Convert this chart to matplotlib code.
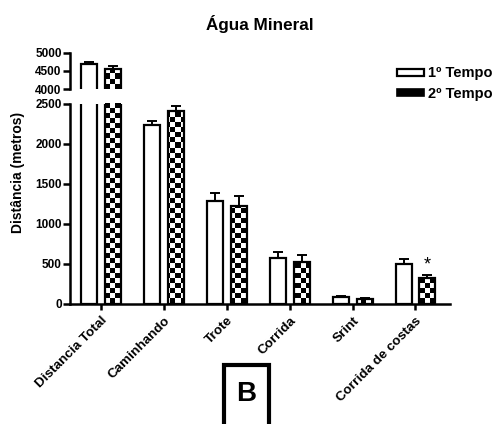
import numpy as np
import matplotlib
matplotlib.use("Agg")
import matplotlib.pyplot as plt
from matplotlib.patches import Patch, Rectangle

plt.rcParams["font.family"] = ["Liberation Sans", "DejaVu Sans"]
plt.rcParams["font.weight"] = "bold"

categories = ["Distancia Total", "Caminhando", "Trote", "Corrida", "Srint", "Corrida de costas"]
tempo1 = [4680, 2230, 1285, 573, 81, 498]
tempo1_err = [60, 55, 100, 75, 17, 54]
tempo2 = [4545, 2405, 1220, 523, 56, 323]
tempo2_err = [80, 60, 125, 83, 17, 33]
significant = [False, False, False, False, False, True]

W, H = 498, 424
fig = plt.figure(figsize=(W / 100, H / 100), dpi=100)

# broken y axis: lower 0-2500, upper 4000-5000
ax_lo = fig.add_axes([70 / W, (H - 303.5) / H, 380 / W, 200 / H])
ax_hi = fig.add_axes([70 / W, (H - 89) / H, 380 / W, 36.3 / H], sharex=ax_lo)
ax_lo.set_ylim(0, 2500)
ax_hi.set_ylim(4000, 5000)

x = np.arange(len(categories))
width = 0.255
offset = 0.19

# checkerboard texture (~5 px cells), clipped to each bar of the second series
for ax, nrows in ((ax_lo, 40), (ax_hi, 7)):
    checker = (np.indices((nrows, 76)).sum(axis=0) % 2).astype(float)
    ax.bar(x - offset, tempo1, width, facecolor="white", edgecolor="black", linewidth=1.6, zorder=2)
    bars2 = ax.bar(x + offset, tempo2, width, facecolor="white", edgecolor="none", zorder=2)
    for b in bars2:
        im = ax.imshow(checker, cmap="gray_r", extent=[0, 1, 0, 1], transform=ax.transAxes,
                       aspect="auto", interpolation="nearest", zorder=3)
        im.set_clip_path(b)
    ax.bar(x + offset, tempo2, width, facecolor="none", edgecolor="black", linewidth=1.6, zorder=4)
    ax.errorbar(x - offset, tempo1, yerr=[np.zeros(len(x)), tempo1_err], fmt="none",
                ecolor="black", elinewidth=1.4, capsize=3.3, capthick=1.4, zorder=1)
    ax.errorbar(x + offset, tempo2, yerr=[np.zeros(len(x)), tempo2_err], fmt="none",
                ecolor="black", elinewidth=1.4, capsize=3.3, capthick=1.4, zorder=1)
    ax.set_xlim(-0.5, 5.55)
    for s in ("top", "right"):
        ax.spines[s].set_visible(False)
    ax.spines["left"].set_linewidth(1.8)
    ax.tick_params(axis="y", length=5, width=1.8, labelsize=8.5, pad=1)

for i, sig in enumerate(significant):
    if sig:
        ax_lo.text(x[i] + offset, tempo2[i] + tempo2_err[i] + 20, "*", ha="center", va="bottom",
                   fontsize=13, fontweight="normal")

ax_lo.set_yticks([0, 500, 1000, 1500, 2000, 2500])
ax_hi.set_yticks([4000, 4500, 5000])
ax_lo.spines["bottom"].set_linewidth(1.8)
ax_lo.set_xticks(x)
ax_lo.set_xticklabels(categories, rotation=45, ha="right", rotation_mode="anchor", fontsize=9.7)
ax_lo.tick_params(axis="x", length=4, width=1.8, pad=4)
ax_hi.spines["bottom"].set_visible(False)
ax_hi.tick_params(axis="x", bottom=False, labelbottom=False)

fig.text(260 / W, (H - 24) / H, "Água Mineral", ha="center", va="center", fontsize=12.3, fontweight="bold")
fig.text(18.5 / W, (H - 172.5) / H, "Distância (metros)", ha="center", va="center", rotation=90,
         fontsize=10, fontweight="bold")

handles = [Patch(facecolor="white", edgecolor="black", linewidth=1.6, label="1º Tempo"),
           Patch(facecolor="black", edgecolor="black", linewidth=1.2, label="2º Tempo")]
fig.legend(handles=handles, loc="upper left", bbox_to_anchor=(397 / W, (H - 66.5) / H),
           frameon=False, fontsize=10.5, handlelength=1.85, handleheight=0.35, handletextpad=0.3,
           labelspacing=0.45, borderpad=0, borderaxespad=0)

# panel letter
fig.add_artist(Rectangle((224 / W, -0.05), 45 / W, (H - 365) / H + 0.05, transform=fig.transFigure,
                         facecolor="white", edgecolor="black", linewidth=3))
fig.text(246.5 / W, (H - 394) / H, "B", ha="center", va="center", fontsize=20, fontweight="bold")

fig.savefig("out.png", dpi=100)
